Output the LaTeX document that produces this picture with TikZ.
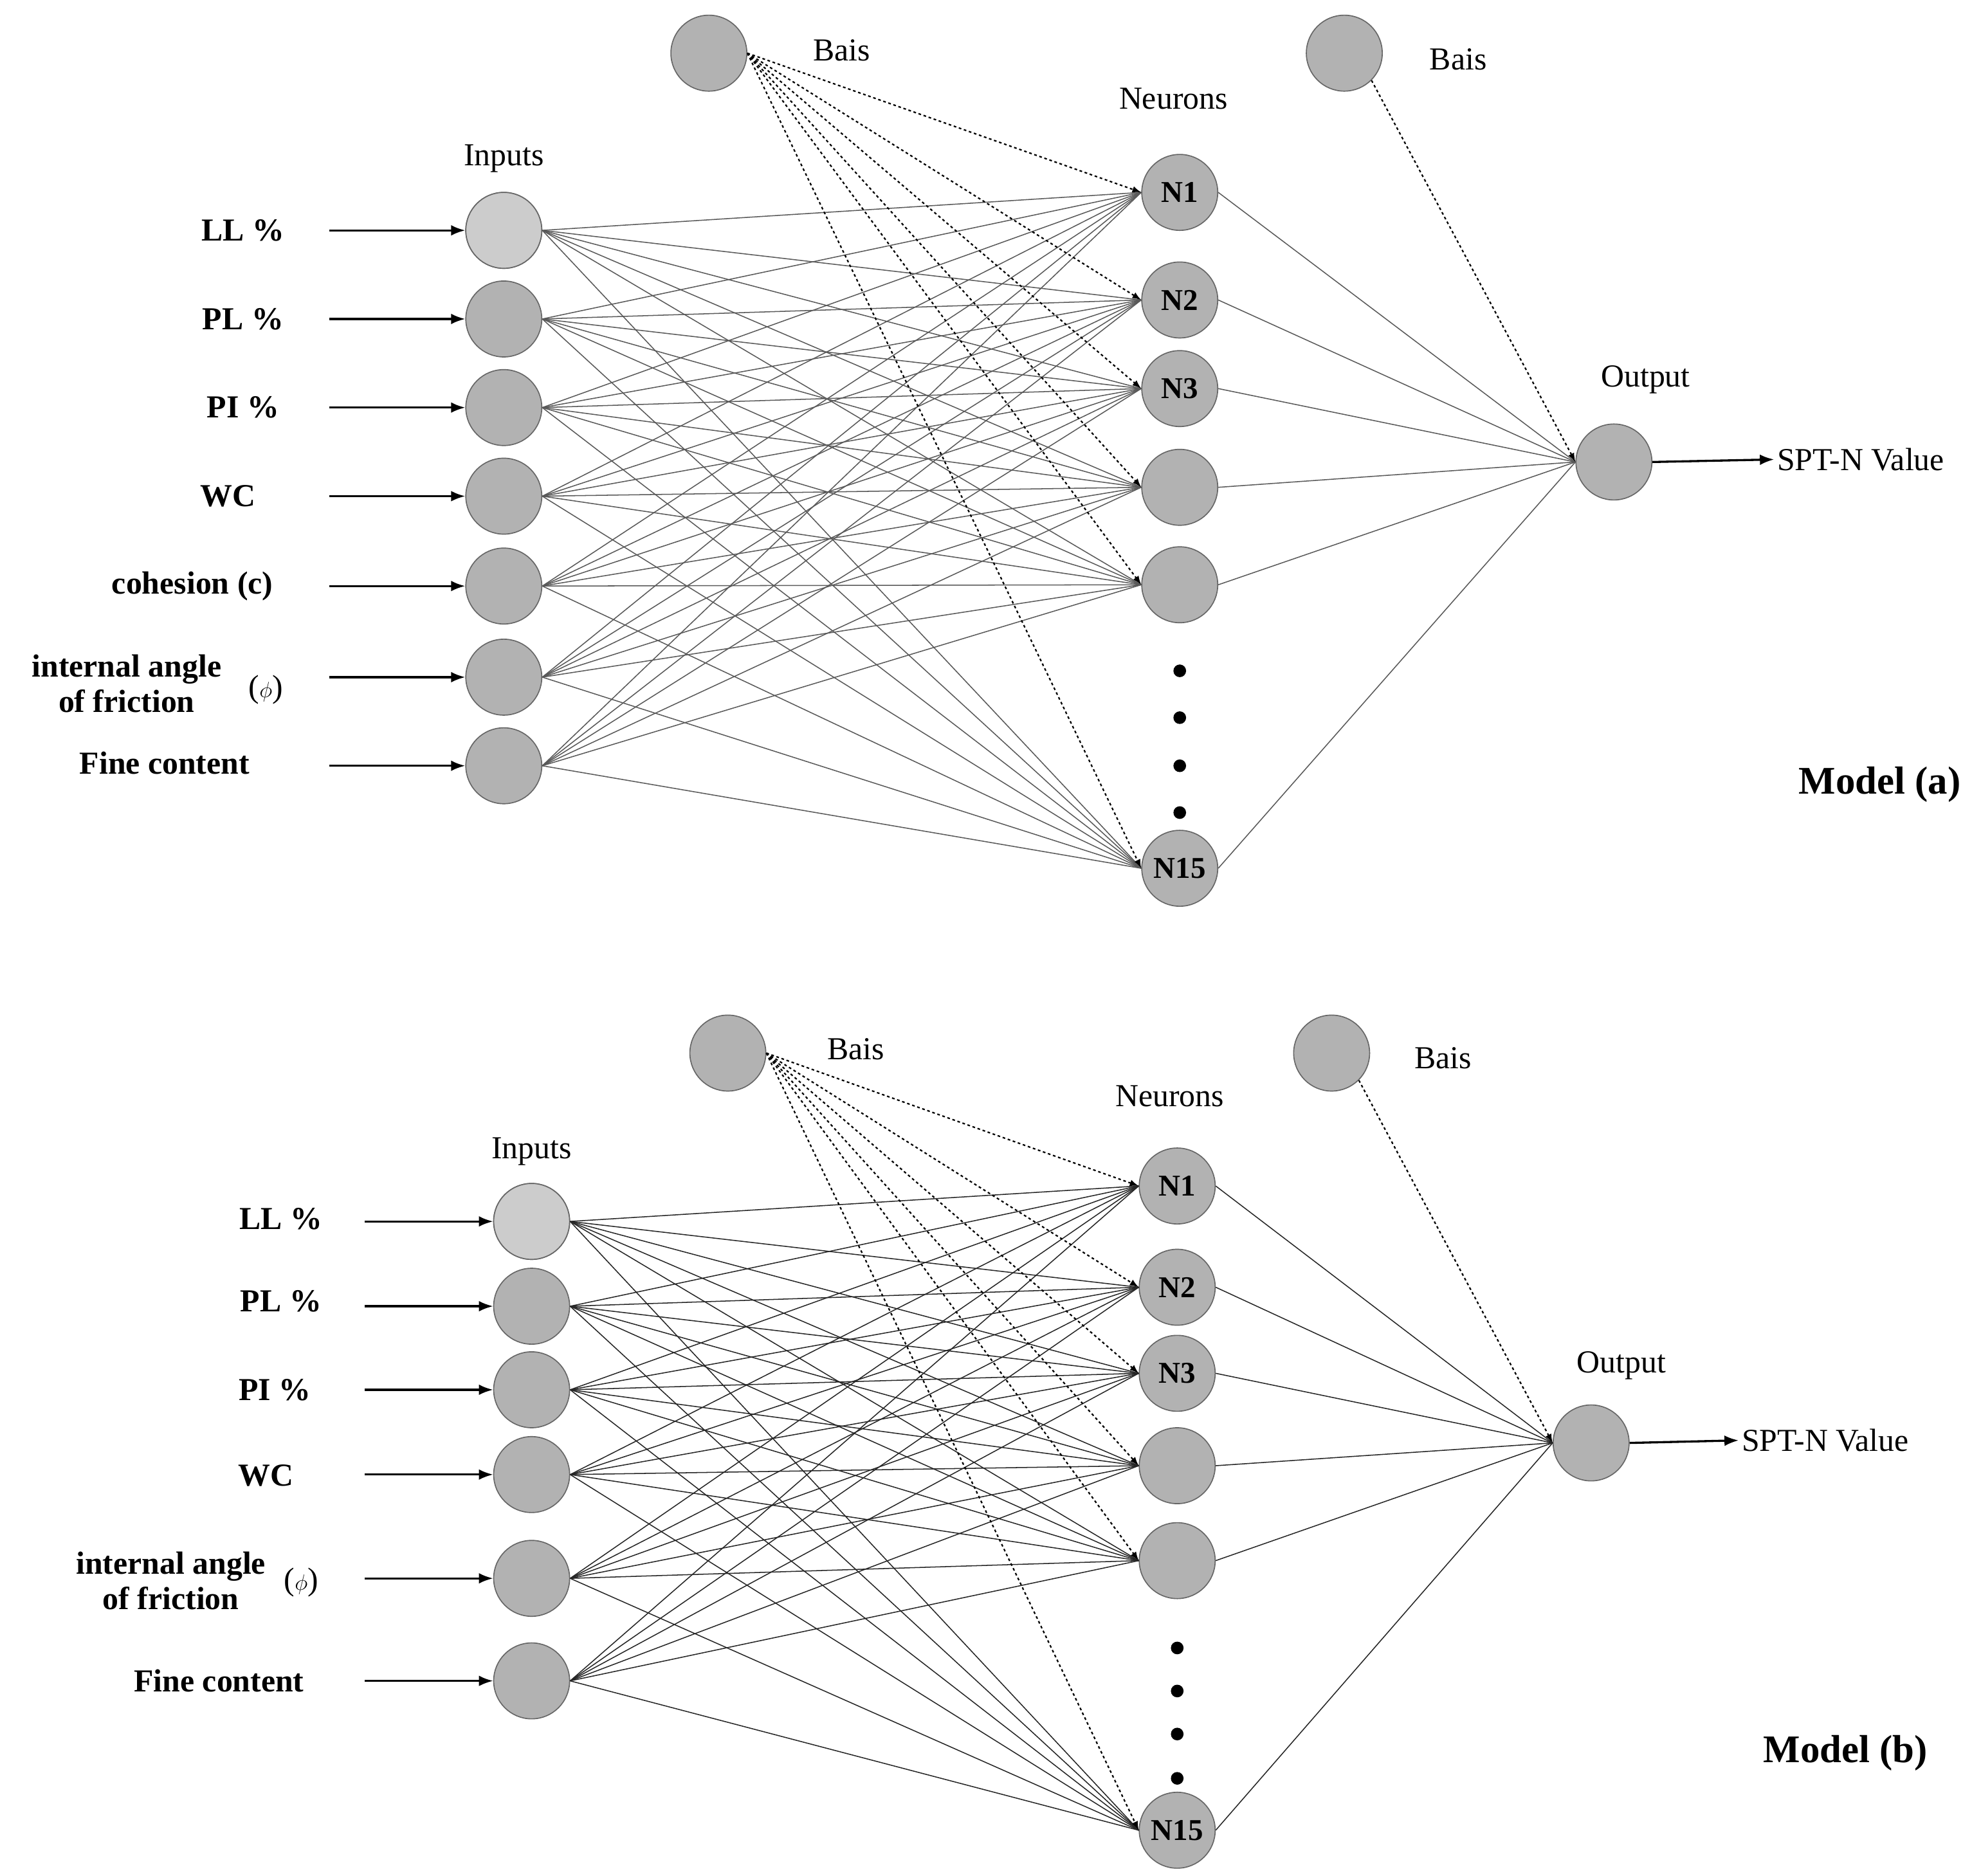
\documentclass[tikz,border=0pt]{standalone}
\usepackage{fontspec}
\setmainfont{Liberation Serif}
\usetikzlibrary{arrows.meta}
\begin{document}
\begin{tikzpicture}[x=0.05cm,y=-0.05cm,
 neu/.style={circle,draw=gray!80!black,fill=gray!60,line width=1.2pt,minimum size=3cm,inner sep=0pt,font=\fontsize{34}{36}\selectfont\bfseries},
 lbl/.style={font=\fontsize{36}{40}\selectfont\bfseries,align=center},
 txt/.style={font=\fontsize{36}{40}\selectfont},
 con/.style={gray!70!black,line width=1.1pt},
 dsh/.style={dashed,line width=1.6pt,-{Latex[length=10pt]}},
 inarr/.style={line width=2.4pt,-{Latex[length=16pt]}}]
\useasboundingbox (0,0) rectangle (1565,1482);
% ---------- Model (a)
\foreach \y [count=\i] in {182,252,322,392,463,535,605} \node[neu] (ai\i) at (398,\y) {};
\node[neu,fill=gray!40] at (ai1) {};
\foreach \y/\t [count=\i] in {152/N1,237/N2,307/N3,385/,462/,686/N15} \node[neu] (an\i) at (932,\y) {\t};
\node[neu] (ab1) at (560,42) {};
\node[neu] (ab2) at (1062,42) {};
\node[neu] (ao) at (1275,365) {};
\node[txt] at (398,125) {Inputs};
\node[txt] at (927,78) {Neurons};
\node[txt] at (665,40) {Bais};
\node[txt] at (1152,47) {Bais};
\node[txt] at (1300,300) {Output};
\node[txt] (aout) at (1470,363) {SPT-N Value};
\node[lbl,font=\fontsize{44}{48}\selectfont\bfseries] at (1485,620) {Model (a)};
\foreach \y in {530,567,605,642} \fill (932,\y) circle (5);
\foreach \y/\t/\x in {182/LL \%/192,252/PL \%/192,322/PI \%/192,392/WC/180,463/cohesion (c)/152,603/Fine content/130}
  \node[lbl] at (\x,\y) {\t};
\node[lbl,align=center] at (100,540) {internal angle\\of friction};
\node[txt] at (210,545) {($\phi$)};
\foreach \i/\y in {1/182,2/252,3/322,4/392,5/463,6/535,7/605} {
  \coordinate (as\i) at (260,\y);
  \draw[inarr] (as\i) -- (ai\i.west);}
\foreach \i in {1,...,7} \foreach \j in {1,...,6} \draw[con] (ai\i.east) -- (an\j.west);
\foreach \j in {1,...,6} \draw[dsh] (ab1.east) -- (an\j.west);
\foreach \j in {1,...,6} \draw[con] (an\j.east) -- (ao.west);
\draw[dsh] (ab2.south east) -- (ao.west);
\draw[inarr] (ao.east) -- (aout.west);
% ---------- Model (b)
\foreach \y [count=\i] in {965,1032,1098,1165,1247,1328} \node[neu] (bi\i) at (420,\y) {};
\node[neu,fill=gray!40] at (bi1) {};
\foreach \y/\t [count=\i] in {937/N1,1017/N2,1085/N3,1158/,1233/,1446/N15} \node[neu] (bn\i) at (930,\y) {\t};
\node[neu] (bb1) at (575,832) {};
\node[neu] (bb2) at (1052,832) {};
\node[neu] (bo) at (1257,1140) {};
\node[txt] at (420,910) {Inputs};
\node[txt] at (924,866) {Neurons};
\node[txt] at (676,829) {Bais};
\node[txt] at (1140,836) {Bais};
\node[txt] at (1281,1079) {Output};
\node[txt] (bout) at (1442,1138) {SPT-N Value};
\node[lbl,font=\fontsize{44}{48}\selectfont\bfseries] at (1458,1385) {Model (b)};
\foreach \y in {1302,1336,1370,1405} \fill (930,\y) circle (5);
\foreach \y/\t/\x in {963/LL \%/222,1028/PL \%/222,1098/PI \%/217,1166/WC/210,1328/Fine content/173}
  \node[lbl] at (\x,\y) {\t};
\node[lbl,align=center] at (135,1249) {internal angle\\of friction};
\node[txt] at (238,1250) {($\phi$)};
\foreach \i/\y in {1/965,2/1032,3/1098,4/1165,5/1247,6/1328} {
  \coordinate (bs\i) at (288,\y);
  \draw[inarr] (bs\i) -- (bi\i.west);}
\foreach \i in {1,...,6} \foreach \j in {1,...,6} \draw[con,black!85] (bi\i.east) -- (bn\j.west);
\foreach \j in {1,...,6} \draw[dsh] (bb1.east) -- (bn\j.west);
\foreach \j in {1,...,6} \draw[con,black!85] (bn\j.east) -- (bo.west);
\draw[dsh] (bb2.south east) -- (bo.west);
\draw[inarr] (bo.east) -- (bout.west);
\end{tikzpicture}
\end{document}
